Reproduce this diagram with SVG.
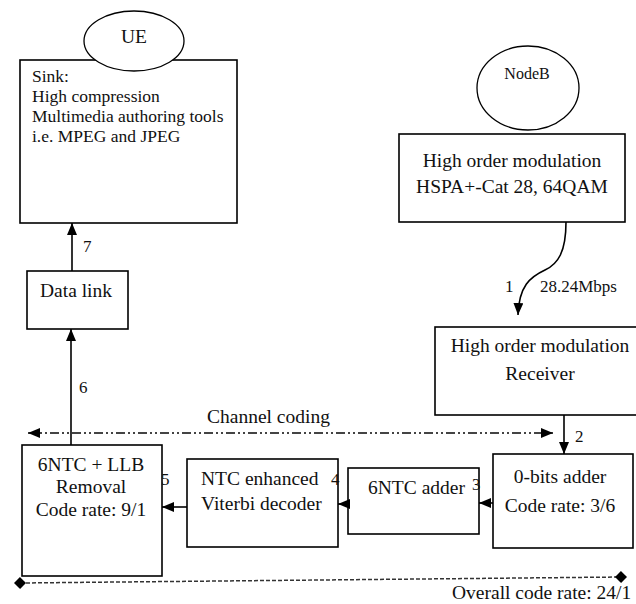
<svg xmlns="http://www.w3.org/2000/svg" width="636" height="604" viewBox="0 0 636 604" font-family="'Liberation Serif', 'Times New Roman', Times, serif">
<defs>
<style>
.box{fill:#fff;stroke:#000;stroke-width:1.6}
.ell{fill:#fff;stroke:#000;stroke-width:1.3}
text{font-family:'Liberation Serif','Times New Roman',Times,serif;fill:#111}
.t{font-size:19.5px}
.c{text-anchor:middle}
.s{font-size:17.5px}
.n{font-size:17px}
.conn{fill:none;stroke:#000;stroke-width:1.6}
.dd{fill:none;stroke:#444;stroke-width:2;stroke-dasharray:9 3 2 3 2 3}
.da{fill:none;stroke:#333;stroke-width:1.5;stroke-dasharray:4 2}
</style>
<marker id="arr" viewBox="0 0 12 10" refX="12" refY="5" markerWidth="12" markerHeight="10" markerUnits="userSpaceOnUse" orient="auto-start-reverse">
<path d="M0,0 L12,5 L0,10 z" fill="#000"/>
</marker>
<marker id="dia" viewBox="0 0 12 12" refX="6" refY="6" markerWidth="12" markerHeight="12" markerUnits="userSpaceOnUse" orient="auto">
<path d="M0,6 L6,0 L12,6 L6,12 z" fill="#000"/>
</marker>
</defs>
<rect width="636" height="604" fill="#fff"/>

<g id="sink">
<rect class="box" x="20" y="60" width="217" height="163"/>
<text class="s" x="32" y="82">Sink:</text>
<text class="s" x="32" y="102">High compression</text>
<text class="s" x="32" y="122">Multimedia authoring tools</text>
<text class="s" x="32" y="142">i.e. MPEG and JPEG</text>
</g>
<g id="ue">
<ellipse class="ell" cx="134" cy="41" rx="50" ry="30"/>
<text class="t c" x="134" y="43">UE</text>
</g>
<g id="nodeb">
<ellipse class="ell" cx="528" cy="88" rx="51" ry="42"/>
<text class="c" x="527" y="79" font-size="16">NodeB</text>
</g>
<g id="hom">
<rect class="box" x="399" y="134" width="226" height="88"/>
<text class="t c" x="512" y="167">High order modulation</text>
<text class="t c" x="512" y="193">HSPA+-Cat 28, 64QAM</text>
</g>
<g id="receiver">
<rect class="box" x="435" y="327" width="210" height="88"/>
<text class="t c" x="540" y="352">High order modulation</text>
<text class="t c" x="540" y="380">Receiver</text>
</g>
<g id="datalink">
<rect class="box" x="27" y="271" width="101" height="58"/>
<text class="t c" x="76" y="297">Data link</text>
</g>
<g id="removal">
<rect class="box" x="22" y="445" width="140" height="131"/>
<text class="t c" x="91" y="471">6NTC + LLB</text>
<text class="t c" x="91" y="493">Removal</text>
<text class="t c" x="91" y="516">Code rate: 9/1</text>
</g>
<g id="viterbi">
<rect class="box" x="187" y="459" width="151" height="88"/>
<text class="t" x="201" y="485">NTC enhanced</text>
<text class="t" x="201" y="510">Viterbi decoder</text>
</g>
<g id="ntcadder">
<rect class="box" x="348" y="468" width="131" height="66"/>
<text class="t" x="368" y="494">6NTC adder</text>
</g>
<g id="zerobits">
<rect class="box" x="493" y="454" width="140" height="94"/>
<text class="t c" x="560" y="483">0-bits adder</text>
<text class="t c" x="560" y="512">Code rate: 3/6</text>
</g>

<g id="connectors">
<path class="conn" d="M566,222 C566,252 558,264 545,270 C530,277 519,286 518,315" marker-end="url(#arr)"/>
<line class="conn" x1="564" y1="415" x2="564" y2="454" marker-end="url(#arr)"/>
<line class="conn" x1="493" y1="503" x2="479" y2="503" marker-end="url(#arr)"/>
<line class="conn" x1="348" y1="504" x2="338" y2="504" marker-end="url(#arr)"/>
<line class="conn" x1="187" y1="507" x2="162" y2="507" marker-end="url(#arr)"/>
<line class="conn" x1="71" y1="445" x2="71" y2="329" marker-end="url(#arr)"/>
<line class="conn" x1="72" y1="271" x2="72" y2="223" marker-end="url(#arr)"/>
<line class="dd" x1="28" y1="433" x2="553" y2="433" marker-start="url(#arr)" marker-end="url(#arr)"/>
<line class="da" x1="20" y1="583" x2="621" y2="577" marker-start="url(#dia)" marker-end="url(#dia)"/>
<text class="n" x="505" y="292">1</text>
<text class="n" x="540" y="292">28.24Mbps</text>
<text class="n" x="575" y="442">2</text>
<text class="n" x="472" y="490">3</text>
<text class="n" x="331" y="485">4</text>
<text class="n" x="161" y="485">5</text>
<text class="n" x="79" y="393">6</text>
<text class="n" x="83" y="252">7</text>
<text class="t" x="207" y="423">Channel coding</text>
<text class="t" x="452" y="599">Overall code rate: 24/1</text>
</g>
</svg>
